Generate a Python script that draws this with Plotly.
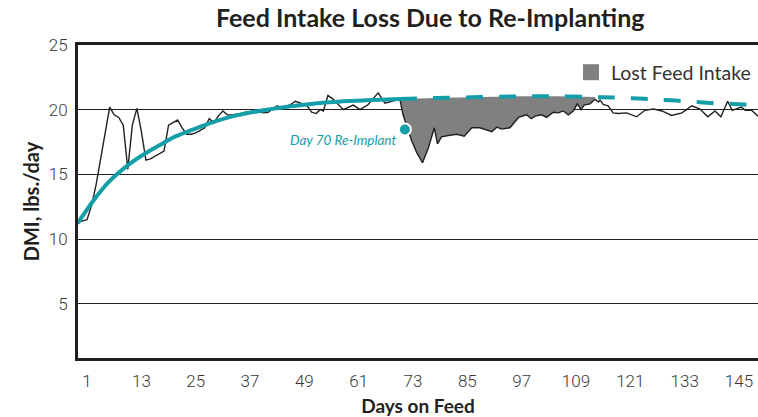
import plotly.graph_objects as go

# ---- data ----
actual_days = [-1, 1, 2, 3, 4, 5, 6, 7, 8, 9, 10, 11, 12, 13, 14, 15, 16, 17, 18, 19, 20, 21, 22, 23, 24, 25, 26,
               27, 28, 29, 30, 31, 32, 33, 35, 36, 38, 40, 41, 43, 44, 46, 47, 49.5, 50.6, 51.6, 52.5, 53.2, 54.2,
               55.4, 57.6, 59.8, 61.3, 63.1, 65.3, 66.8, 68.3, 70.1,
               70.8, 72.7, 73.8, 75.1, 76.4, 77.7, 78.4, 79.3, 80.8, 82.65, 84.3, 86.0, 87.8, 90.4, 91.5, 92.6,
               94.4, 96.3, 98.1, 99.1, 100.0, 101.4, 102.5, 104.0, 105.1, 106.2, 107.3, 108.4, 109.3, 110.1,
               110.8, 112.1, 113.2,
               114.0, 114.3, 115.0, 116.1, 117.2, 118.3, 120.2, 122.4, 124.2, 126.1, 128.0, 130.1, 132.4, 134.6,
               136.4, 138.1, 139.7, 141.0, 142.5, 143.5, 145.5, 146.4, 147.8, 149.2]
actual_dmi = [11.3, 11.5, 12.6, 14.2, 16.2, 18.2, 20.2, 19.6, 19.4, 18.8, 15.4, 18.8, 20.1, 18.3, 16.1, 16.2, 16.4,
              16.6, 16.8, 18.8, 19.0, 19.2, 18.6, 18.1, 18.1, 18.2, 18.4,
              18.6, 19.3, 19.0, 19.5, 19.9, 19.6, 19.6, 19.7, 19.8, 19.9, 19.75, 19.8, 20.3, 20.1, 20.4, 20.65,
              20.35, 19.8, 19.7, 20.0, 19.9, 21.1, 20.8, 20.0, 20.35, 20.0, 20.4, 21.3, 20.5, 20.65, 20.8,
              19.6, 17.6, 16.7, 15.9, 17.05, 18.6, 17.35, 17.9, 18.0, 18.1, 17.95, 18.6, 18.6, 18.3, 18.65, 18.5,
              18.6, 19.4, 19.6, 19.3, 19.5, 19.6, 19.4, 19.8, 19.75, 19.9, 19.6, 19.9, 20.45, 20.0,
              20.35, 20.45, 20.8,
              20.6, 20.75, 20.4, 20.3, 19.75, 19.7, 19.75, 19.45, 19.95, 20.05, 19.9, 19.55, 19.75, 20.3,
              20.05, 19.45, 19.9, 19.45, 20.65, 19.95, 20.2, 19.95, 19.95, 19.5]

trend_days = [-1.1, 2.25, 5.9, 9.6, 13.3, 17.0, 20.65, 24.3, 27.3, 33.3, 40.7, 48.0, 55.4, 62.8, 70.1]
trend_dmi = [11.2, 12.9, 14.45, 15.6, 16.5, 17.25, 17.95, 18.45, 18.85, 19.5, 20.0, 20.35, 20.6, 20.72, 20.82]

proj_days = [70.1, 78, 88, 97, 105, 113.2, 117, 124, 131, 138.6, 146, 149.3]
proj_dmi = [20.82, 20.9, 20.97, 21.03, 21.03, 20.97, 20.95, 20.84, 20.7, 20.52, 20.4, 20.33]

reimplant_day = [71.2]
reimplant_dmi = [18.47]

x_ticks = [1, 13, 25, 37, 49, 61, 73, 85, 97, 109, 121, 133, 145]
y_ticks = [5, 10, 15, 20, 25]

TEAL = "#139ea8"
GRAY = "#808080"
INK = "#231f20"

# lost-intake polygon: actual (day 70 -> 113) then projection back
i0 = actual_days.index(70.1)
i1 = actual_days.index(113.2)
fill_x = actual_days[i0:i1 + 1] + [d for d in proj_days if 70.1 <= d <= 113.2][::-1]
fill_y = actual_dmi[i0:i1 + 1] + [v for d, v in zip(proj_days, proj_dmi) if 70.1 <= d <= 113.2][::-1]

fig = go.Figure()
fig.add_trace(go.Scatter(x=fill_x, y=fill_y, fill="toself", fillcolor=GRAY, mode="none",
                         showlegend=False, hoverinfo="skip"))
fig.add_trace(go.Scatter(x=actual_days, y=actual_dmi, mode="lines",
                         line=dict(color=INK, width=1.4), showlegend=False))
fig.add_trace(go.Scatter(x=trend_days, y=trend_dmi, mode="lines", line_shape="spline",
                         line=dict(color=TEAL, width=4), showlegend=False))
fig.add_trace(go.Scatter(x=proj_days, y=proj_dmi, mode="lines", line_shape="spline",
                         line=dict(color=TEAL, width=4, dash="17px,16px"), showlegend=False))
fig.add_trace(go.Scatter(x=reimplant_day, y=reimplant_dmi, mode="markers",
                         marker=dict(color=TEAL, size=12, line=dict(color="white", width=2)),
                         showlegend=False))
fig.add_trace(go.Scatter(x=[None], y=[None], mode="markers", name="Lost Feed Intake",
                         marker=dict(symbol="square", size=17, color=GRAY)))

fig.add_annotation(x=69.7, y=17.69, text="<i>Day 70 Re-Implant</i>", showarrow=False,
                   xanchor="right", yanchor="middle",
                   font=dict(family="Lato", size=13.5, color=TEAL))

tick_font = dict(family="Roboto", size=17, color="#3a3a3a", weight=300)

fig.update_layout(
    width=758, height=417,
    margin=dict(l=78, r=0, t=45, b=59),
    paper_bgcolor="white", plot_bgcolor="white",
    title=dict(text="<b>Feed Intake Loss Due to Re-Implanting</b>", x=0.518, xref="paper",
               xanchor="center", y=1 - 18 / 417, yref="container", yanchor="middle",
               font=dict(family="Lato", size=25, color=INK)),
    legend=dict(x=0.725, y=0.912, xanchor="left", yanchor="middle", bgcolor="rgba(0,0,0,0)",
                font=dict(family="Lato", size=19.5, color="#333333")),
    xaxis=dict(range=[-1, 149.2], tickvals=x_ticks, ticktext=[str(t) for t in x_ticks],
               showgrid=False, zeroline=False, showline=True, mirror=True, linecolor=INK, linewidth=3,
               ticks="", tickfont=tick_font, ticklabelstandoff=6, automargin=False,
               title=dict(text="<b>Days on Feed</b>", font=dict(family="Lato", size=19, color=INK),
                          standoff=10)),
    yaxis=dict(range=[0.8, 25], tickvals=y_ticks, ticktext=[str(t) for t in y_ticks],
               showgrid=True, gridcolor=INK, gridwidth=1, zeroline=False,
               showline=True, linecolor=INK, linewidth=3, ticks="", tickfont=tick_font,
               ticklabelstandoff=4, automargin=False,
               title=dict(text="<b>DMI, lbs./day</b>", font=dict(family="Lato", size=20, color=INK),
                          standoff=4)),
)

fig.write_html("out.html", config={"displayModeBar": False},
               post_script="document.body.style.margin='0';document.body.style.padding='0';")
